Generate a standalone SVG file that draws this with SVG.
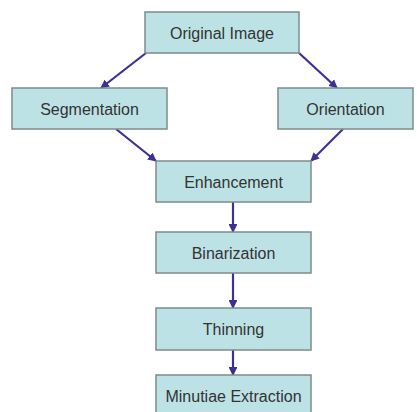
<svg xmlns="http://www.w3.org/2000/svg" width="417" height="412" viewBox="0 0 417 412">
<style>
.box{fill:#bde2e5;stroke:#7f8b8c;stroke-width:1.5}
.lbl{font-family:"Liberation Sans",Arial,sans-serif;font-size:16px;fill:#333;text-anchor:middle;dominant-baseline:central}
.edge{stroke:#3d2f96;stroke-width:2.2;fill:none;marker-end:url(#ah)}
</style>
<defs>
<marker id="ah" viewBox="0 0 10 10" refX="9" refY="5" markerWidth="4" markerHeight="4" orient="auto" markerUnits="strokeWidth">
<path d="M0,0 L10,5 L0,10 z" fill="#3d2f96"/>
</marker>
</defs>
<rect width="417" height="412" fill="#fff"/>
<g id="edges">
<line class="edge" x1="146" y1="53" x2="101" y2="88"/>
<line class="edge" x1="299" y1="53" x2="337" y2="88"/>
<line class="edge" x1="116" y1="129" x2="156" y2="161"/>
<line class="edge" x1="343" y1="129" x2="311" y2="161"/>
<line class="edge" x1="233" y1="202" x2="233" y2="232"/>
<line class="edge" x1="233" y1="273" x2="233" y2="308"/>
<line class="edge" x1="233" y1="350" x2="233" y2="375"/>
</g>
<g id="original"><rect class="box" x="145" y="12" width="154" height="41"/><text class="lbl" x="222" y="33">Original Image</text></g>
<g id="segmentation"><rect class="box" x="12" y="88" width="155" height="41"/><text class="lbl" x="89.5" y="109">Segmentation</text></g>
<g id="orientation"><rect class="box" x="278" y="88" width="135" height="41"/><text class="lbl" x="345.5" y="109">Orientation</text></g>
<g id="enhancement"><rect class="box" x="156" y="161" width="155" height="41"/><text class="lbl" x="233.5" y="182">Enhancement</text></g>
<g id="binarization"><rect class="box" x="156" y="232" width="155" height="41"/><text class="lbl" x="233.5" y="253">Binarization</text></g>
<g id="thinning"><rect class="box" x="156" y="308" width="155" height="42"/><text class="lbl" x="233.5" y="329">Thinning</text></g>
<g id="minutiae"><rect class="box" x="156" y="375" width="155" height="42"/><text class="lbl" x="233.5" y="396">Minutiae Extraction</text></g>
</svg>
